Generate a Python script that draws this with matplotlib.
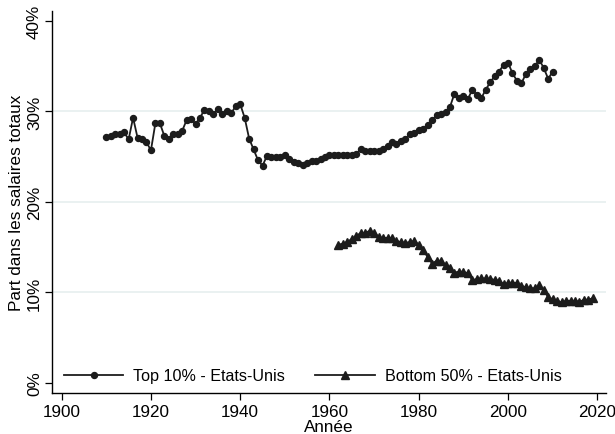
import matplotlib
matplotlib.use("Agg")
import matplotlib.pyplot as plt
from matplotlib.ticker import FuncFormatter

plt.rcParams['font.family'] = ['Liberation Sans', 'DejaVu Sans']

top_years = list(range(1910, 2011))
top10 = [27.15, 27.3, 27.5, 27.45, 27.7, 26.9, 29.3, 27.1, 26.9, 26.6,
         25.7, 28.7, 28.7, 27.3, 27.0, 27.55, 27.5, 27.85, 29.05, 29.2,
         28.6, 29.3, 30.2, 30.0, 29.7, 30.25, 29.7, 30.05, 29.8, 30.6,
         30.8, 29.3, 27.0, 25.8, 24.6, 24.0, 25.1, 25.0, 25.0, 25.0,
         25.2, 24.7, 24.45, 24.3, 24.1, 24.35, 24.5, 24.55, 24.7, 25.0,
         25.2, 25.2, 25.2, 25.2, 25.15, 25.2, 25.35, 25.8, 25.6, 25.65,
         25.6, 25.6, 25.8, 26.15, 26.6, 26.45, 26.7, 26.95, 27.45, 27.65,
         28.0, 28.1, 28.5, 29.05, 29.55, 29.7, 29.95, 30.5, 31.97, 31.45,
         31.7, 31.35, 32.4, 31.8, 31.45, 32.4, 33.2, 33.9, 34.4, 35.15,
         35.4, 34.2, 33.4, 33.1, 34.15, 34.65, 35.0, 35.7, 34.8, 33.6,
         34.4]

bottom_years = list(range(1962, 2020))
bottom50 = [15.27, 15.4, 15.6, 15.9, 16.26, 16.56, 16.6, 16.8, 16.6, 16.15,
            16.0, 16.05, 16.0, 15.7, 15.55, 15.5, 15.55, 15.7, 15.27, 14.7,
            13.9, 13.2, 13.5, 13.5, 13.06, 12.66, 12.2, 12.3, 12.3, 12.1,
            11.37, 11.48, 11.55, 11.55, 11.48, 11.4, 11.3, 10.93, 11.04, 11.1,
            11.04, 10.74, 10.56, 10.49, 10.45, 10.8, 10.3, 9.46, 9.27, 9.08,
            8.9, 9.08, 9.08, 9.08, 8.97, 9.2, 9.2, 9.38]

x_ticks = [1900, 1920, 1940, 1960, 1980, 2000, 2020]
y_ticks = [0, 10, 20, 30, 40]
labels = ["Top 10% - Etats-Unis", "Bottom 50% - Etats-Unis"]

FS = 12.3
LFS = 11.6
fig = plt.figure(figsize=(6.15, 4.35), dpi=100)
ax = fig.add_axes([0.084, 0.0943, 0.901, 0.8777])

for g in [10, 20, 30]:
    ax.axhline(g, color='#e4eded', lw=1.1, zorder=0)

col = '#1c1c1c'
ax.plot(top_years, top10, color=col, lw=1.3, marker='o', markersize=4.3,
        label=labels[0])
ax.plot(bottom_years, bottom50, color=col, lw=1.3, marker='^', markersize=5.5,
        label=labels[1])

ax.set_xlim(1897.76, 2021.9)
ax.set_ylim(-1.1, 41.07)
ax.set_xticks(x_ticks)
ax.set_yticks(y_ticks)
ax.yaxis.set_major_formatter(FuncFormatter(lambda v, p: f"{int(v)}%"))
for lab in ax.get_yticklabels():
    lab.set_rotation(90)
    lab.set_va('center')
ax.tick_params(axis='both', direction='out', length=5, width=0.9,
               labelsize=FS, colors='black', pad=3)
ax.tick_params(axis='y', pad=2)
for s in ['top', 'right']:
    ax.spines[s].set_visible(False)
for s in ['left', 'bottom']:
    ax.spines[s].set_linewidth(1.0)
    ax.spines[s].set_color('black')

ax.set_xlabel("Année", fontsize=FS, labelpad=0)
ax.set_ylabel("Part dans les salaires totaux", fontsize=FS, labelpad=2)

ax.legend(loc='center left', bbox_to_anchor=(0.022, 0.045), ncol=2,
          frameon=False, fontsize=LFS, handlelength=3.7, handletextpad=0.62,
          columnspacing=1.85, borderpad=0, borderaxespad=0)

fig.savefig("out.png", dpi=100)
